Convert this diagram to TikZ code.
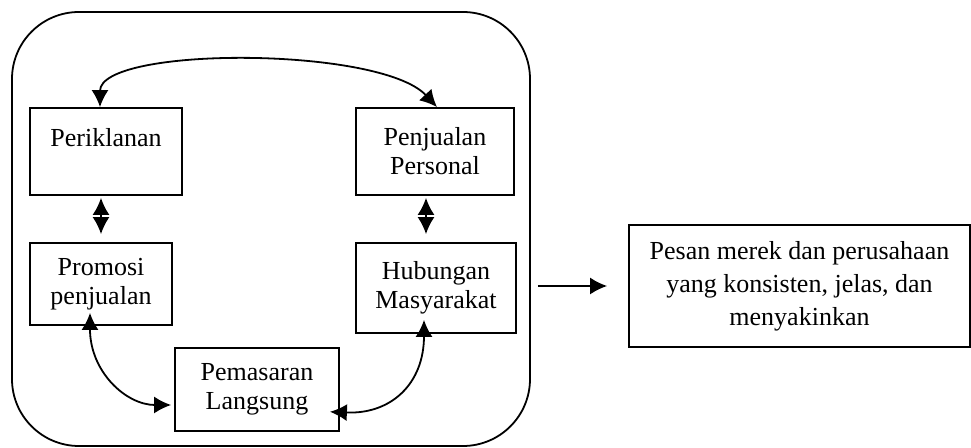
\documentclass[tikz,border=0pt]{standalone}
\usepackage{fontspec}
\setmainfont{Liberation Serif}
\usetikzlibrary{arrows.meta,calc}
\tikzset{
  lw/.style={line width=0.9pt},
  box/.style={draw, lw, rectangle, align=center, inner sep=2pt,
    font=\fontsize{13}{14.5}\selectfont},
  grpbox/.style={draw, lw, rectangle, rounded corners=33.5pt},
  dbl/.style={lw, {Latex[length=8.5pt,width=8.5pt]}-{Latex[length=8.5pt,width=8.5pt]}},
  arr/.style={lw, -{Latex[length=8.5pt,width=8.5pt]}}
}
\begin{document}
\begin{tikzpicture}[x=0.5pt,y=-0.5pt]
\useasboundingbox (0,0) rectangle (971,447.5);
% outer group
\node[grpbox, minimum width=259pt, minimum height=217pt] (grp) at (271,229) {};
% boxes
\node[box, minimum width=76pt, minimum height=43.5pt] (per) at (106,151.5) {Periklanan\\~};
\node[box, minimum width=79pt, minimum height=43.5pt] (pen) at (435,151.5) {Penjualan\\Personal};
\node[box, minimum width=71pt, minimum height=41pt] (pro) at (101,284) {Promosi\\penjualan};
\node[box, minimum width=80pt, minimum height=45pt] (hub) at (436,288) {Hubungan\\Masyarakat};
\node[box, minimum width=82pt, minimum height=41.5pt] (pem) at (257,389.5) {Pemasaran\\Langsung};
\node[box, minimum width=170.5pt, minimum height=61pt,
  font=\fontsize{13}{16.5}\selectfont] (msg) at (799.5,286)
  {Pesan merek dan perusahaan\\yang konsisten, jelas, dan\\menyakinkan};
% top curve
\draw[dbl] ($(per.north)+(-6,0)$) .. controls +(0,-61) and +(-57,-61) .. ($(pen.north)+(2,0)$);
% vertical double arrows
\draw[dbl, shorten <=1pt, shorten >=4pt] (pro.north |- per.south) -- (pro.north);
\draw[dbl, shorten <=1pt, shorten >=4pt] ($(pen.south)+(-9,0)$) -- ($(hub.north)+(-10,0)$);
% bottom curves
\draw[dbl, shorten <=-6.5pt] ($(pro.south)+(-11,0)$) .. controls +(0,46) and +(-45,0) .. ($(pem.west)+(-3,15.5)$);
\draw[dbl, shorten <=-7pt, shorten >=-8pt] ($(hub.south)+(-12,0)$) .. controls +(0,50) and +(45,2) .. ($(pem.east)+(6,23)$);
% output arrow
\draw[arr, shorten <=3.5pt, shorten >=10.5pt] (grp.east |- msg.west) -- (msg.west);
\end{tikzpicture}
\end{document}
